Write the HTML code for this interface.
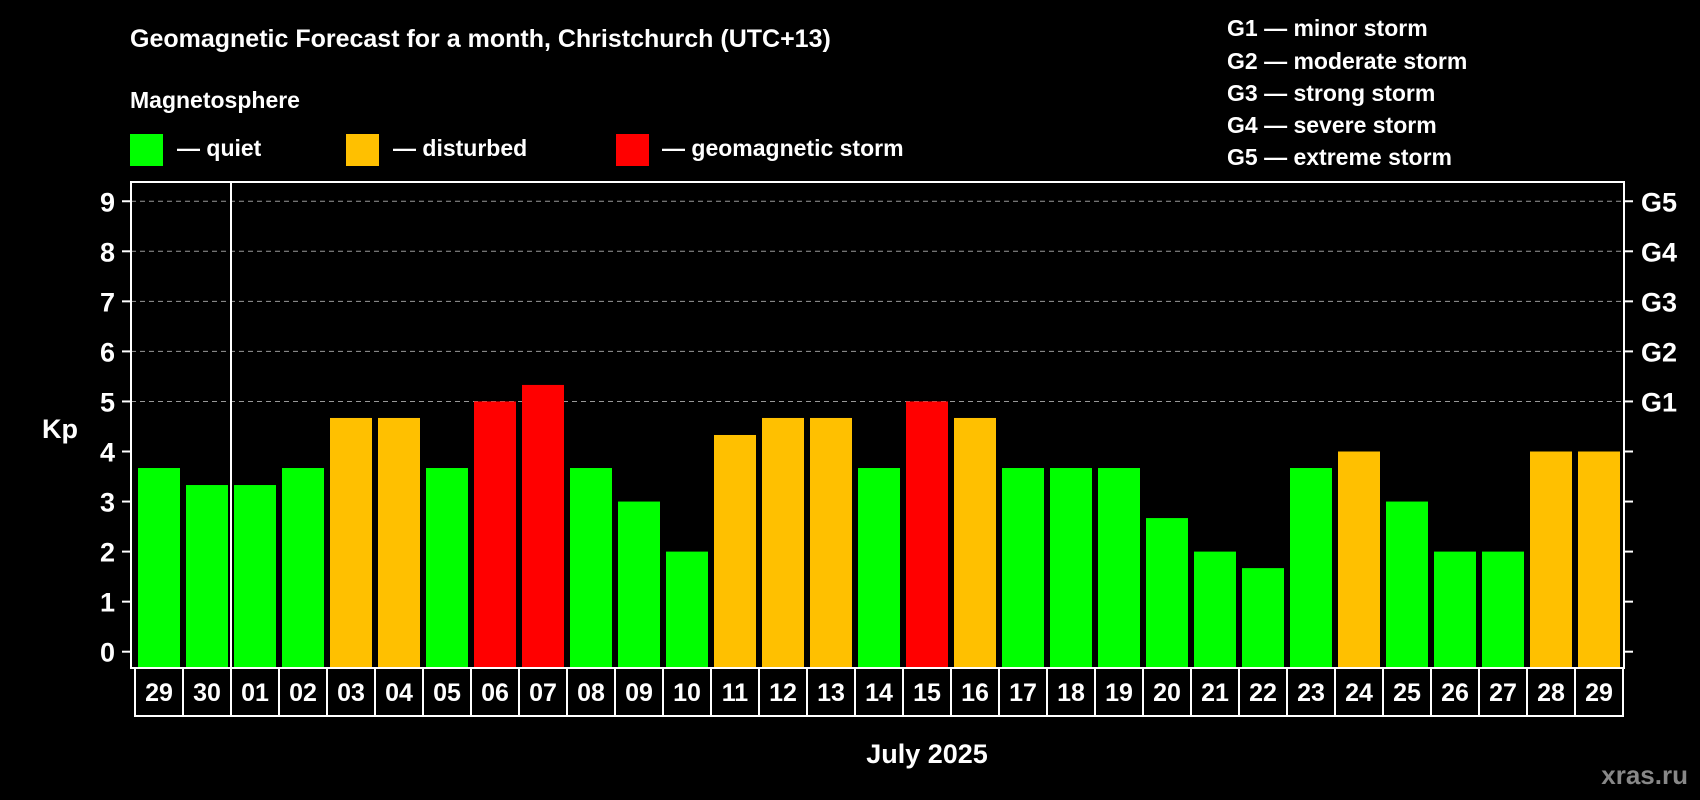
<!DOCTYPE html>
<html><head><meta charset="utf-8"><style>
html,body{margin:0;padding:0;background:#000;}
svg{display:block;font-family:"Liberation Sans",Arial,sans-serif;font-weight:bold;}
</style></head><body>
<svg id="chart" width="1700" height="800" viewBox="0 0 1700 800">
<rect x="0" y="0" width="1700" height="800" fill="#000"/>
<text x="130" y="47" fill="#fff" font-size="25">Geomagnetic Forecast for a month, Christchurch (UTC+13)</text>
<text x="130" y="108" fill="#fff" font-size="23">Magnetosphere</text>
<g>
<rect x="130" y="134" width="33" height="32" fill="#00ff00"/>
<text x="177" y="156" fill="#fff" font-size="23">— quiet</text></g>
<g>
<rect x="346" y="134" width="33" height="32" fill="#ffc000"/>
<text x="393" y="156" fill="#fff" font-size="23">— disturbed</text></g>
<g>
<rect x="616" y="134" width="33" height="32" fill="#ff0000"/>
<text x="662" y="156" fill="#fff" font-size="23">— geomagnetic storm</text></g>
<g fill="#fff" font-size="23">
<text x="1227" y="36">G1 — minor storm</text>
<text x="1227" y="69">G2 — moderate storm</text>
<text x="1227" y="101">G3 — strong storm</text>
<text x="1227" y="133">G4 — severe storm</text>
<text x="1227" y="165">G5 — extreme storm</text>
</g>
<text x="42" y="438" fill="#fff" font-size="27">Kp</text>
<text x="927" y="763" fill="#fff" font-size="27" text-anchor="middle">July 2025</text>
<text x="1688" y="784" fill="#888" font-size="26" text-anchor="end">xras.ru</text>
<g id="plot"></g>
</svg>
<script>
const days = ["29","30","01","02","03","04","05","06","07","08","09","10","11","12","13","14","15","16","17","18","19","20","21","22","23","24","25","26","27","28","29"];
const kp = [3.67,3.33,3.33,3.67,4.67,4.67,3.67,5,5.33,3.67,3,2,4.33,4.67,4.67,3.67,5,4.67,3.67,3.67,3.67,2.67,2,1.67,3.67,4,3,2,2,4,4];
const levels = ["q","q","q","q","d","d","q","s","s","q","q","q","d","d","d","q","s","d","q","q","q","q","q","q","q","d","q","q","q","d","d"];
const yTicks = [0,1,2,3,4,5,6,7,8,9];
const gLabels = ["G1","G2","G3","G4","G5"];
const gLevels = [5,6,7,8,9];

const NS="http://www.w3.org/2000/svg";
const plot=document.getElementById('plot');
const L=131,R=1624,T=182,B=668;
const y0=651.7,unit=50.05;
function yS(v){return y0-v*unit;}
const boxL=135,boxW=48;
function xS(i){return boxL+i*boxW;}
const colors={q:"#00ff00",d:"#ffc000",s:"#ff0000"};
function mk(tag,attrs){const e=document.createElementNS(NS,tag);for(const k in attrs)e.setAttribute(k,attrs[k]);plot.appendChild(e);return e;}

gLevels.forEach((v,i)=>{
  const g=mk('line',{x1:L,x2:R,y1:yS(v),y2:yS(v),stroke:"#999","stroke-width":1,"stroke-dasharray":"5,4"});
  
  
  const t=mk('text',{x:1641,y:yS(v)+10,fill:"#fff","font-size":27});
  t.textContent=gLabels[i];
  
  
});
yTicks.forEach(v=>{
  const a=mk('line',{x1:122,x2:L,y1:yS(v),y2:yS(v),stroke:"#fff","stroke-width":2});
  
  
  const b=mk('line',{x1:R,x2:1633,y1:yS(v),y2:yS(v),stroke:"#fff","stroke-width":2});
  
  
  const t=mk('text',{x:115,y:yS(v)+10,fill:"#fff","font-size":27,"text-anchor":"end"});
  t.textContent=v;
  
  
});
kp.forEach((v,i)=>{
  const r=mk('rect',{x:xS(i)+3,y:yS(v),width:42,height:B-yS(v)-1,fill:colors[levels[i]]});
  
  
});
const frame=mk('rect',{x:L,y:T,width:R-L,height:B-T,fill:"none",stroke:"#fff","stroke-width":2});


const sep=mk('line',{x1:xS(2),x2:xS(2),y1:T,y2:B,stroke:"#fff","stroke-width":2});


days.forEach((d,i)=>{
  const b=mk('rect',{x:xS(i),y:B,width:boxW,height:48,fill:"#000",stroke:"#fff","stroke-width":2});
  
  
  const t=mk('text',{x:xS(i)+boxW/2,y:B+33,fill:"#fff","font-size":25,"text-anchor":"middle"});
  t.textContent=d;
  
  
});
</script>
</body></html>
